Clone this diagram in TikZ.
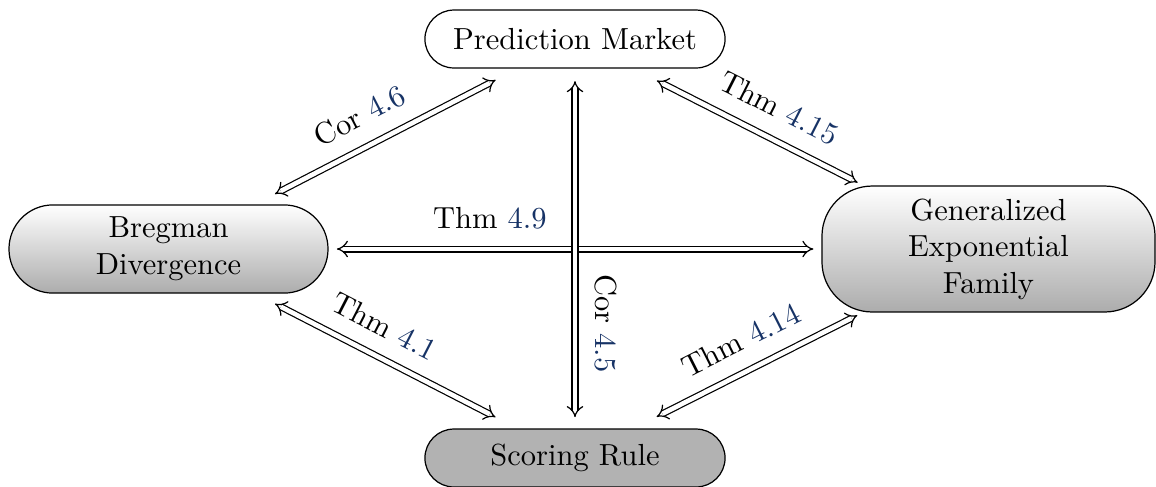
\documentclass[tikz,border=0pt]{standalone}
\usetikzlibrary{arrows.meta}
\definecolor{linkblue}{rgb}{0.09,0.2,0.4}
\begin{document}
\begin{tikzpicture}[x=0.32787pt,y=-0.32787pt,
  box/.style={draw, align=center, inner sep=0pt},
  smallbox/.style={box, minimum width=98.4pt, minimum height=19pt, rounded corners=9.5pt},
  shadedbox/.style={box, top color=white, bottom color=gray!65},
  dbl/.style={double, double distance=1.5pt, {Implies}-{Implies}},
  lbl/.style={sloped, above=3pt}]
\useasboundingbox (0,0) rectangle (1156,486);
\node[smallbox] (pm) at (575,39) {Prediction Market};
\node[smallbox, fill=gray!60] (sr) at (575,458) {Scoring Rule};
\node[shadedbox, minimum width=104.6pt, minimum height=28.9pt, rounded corners=14.4pt] (bd) at (168.5,249) {Bregman\\Divergence};
\node[shadedbox, minimum width=109.2pt, minimum height=41.3pt, rounded corners=16.5pt] (gef) at (988.5,249) {Generalized\\Exponential\\Family};
\draw[dbl, shorten <=39.3pt, shorten >=29.3pt] (bd.center) -- node[lbl, pos=0.505] {Cor \textcolor{linkblue}{4.6}} (pm.center);
\draw[dbl, shorten <=30.1pt, shorten >=48.1pt] (pm.center) -- node[lbl, pos=0.46] {Thm \textcolor{linkblue}{4.15}} (gef.center);
\draw[dbl, shorten <=39.3pt, shorten >=29.3pt] (bd.center) -- node[lbl, pos=0.497] {Thm \textcolor{linkblue}{4.1}} (sr.center);
\draw[dbl, shorten <=30pt, shorten >=48.2pt] (sr.center) -- node[lbl, pos=0.434] {Thm \textcolor{linkblue}{4.14}} (gef.center);
\draw[dbl, shorten <=55.2pt, shorten >=57.4pt] (bd.center) -- node[lbl, pos=0.392] {Thm \textcolor{linkblue}{4.9}} (gef.center);
\draw[dbl, shorten <=13.8pt, shorten >=13.4pt] (pm.center) -- node[lbl, pos=0.679] {Cor \textcolor{linkblue}{4.5}} (sr.center);
\end{tikzpicture}
\end{document}
